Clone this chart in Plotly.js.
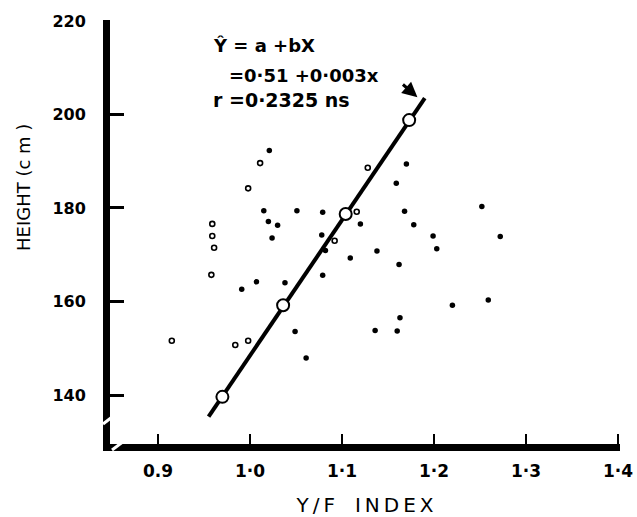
<!DOCTYPE html>
<html>
<head>
<meta charset="utf-8">
<script src="https://cdn.plot.ly/plotly-3.0.1.min.js"></script>
<style>html,body{margin:0;padding:0;background:#fff;}#chart{width:637px;height:517px;}</style>
</head>
<body>
<div id="chart"></div>
<script>
// Filled (solid) observations: Y/F index vs height (cm)
const filledX = [1.021, 1.015, 1.051, 1.079, 1.120, 1.020, 1.030, 1.024, 1.078, 1.082, 1.109, 1.079, 1.007, 0.991, 1.038, 1.049, 1.061, 1.170, 1.159, 1.168, 1.178, 1.199, 1.203, 1.138, 1.162, 1.252, 1.272, 1.220, 1.259, 1.163, 1.136, 1.160];
const filledY = [192.3, 179.4, 179.4, 179.1, 176.6, 177.1, 176.3, 173.6, 174.2, 170.9, 169.3, 165.6, 164.2, 162.6, 164.0, 153.6, 147.9, 189.4, 185.3, 179.3, 176.4, 174.0, 171.3, 170.8, 167.9, 180.3, 173.9, 159.2, 160.3, 156.5, 153.8, 153.7];
// Open (hollow) observations
const openX = [1.011, 0.998, 1.128, 1.116, 1.092, 0.959, 0.959, 0.961, 0.958, 0.915, 0.984, 0.998];
const openY = [189.6, 184.2, 188.6, 179.2, 173.0, 176.6, 174.0, 171.5, 165.7, 151.6, 150.7, 151.6];
// Regression line end points and the marked points on it
const lineX = [0.955, 1.190];
const lineY = [135.4, 203.5];
const fitX = [0.970, 1.036, 1.104, 1.173];
const fitY = [139.6, 159.2, 178.7, 198.8];
// Ticks
const xTickVals = [0.9, 1.0, 1.1, 1.2, 1.3, 1.4];
const xTickText = ["0.9", "1·0", "1·1", "1·2", "1·3", "1·4"];
const yTickVals = [140, 160, 180, 200, 220];
const yTickText = ["140", "160", "180", "200", "220"];

const FONT = "DejaVu Sans, Arial, sans-serif";

const traces = [
  {x: lineX, y: lineY, mode: "lines", type: "scatter",
   line: {color: "#000", width: 4}, hoverinfo: "skip", showlegend: false},
  {x: filledX, y: filledY, mode: "markers", type: "scatter",
   marker: {color: "#000", size: 5.5, line: {width: 0}}, showlegend: false},
  {x: openX, y: openY, mode: "markers", type: "scatter",
   marker: {color: "#fff", size: 5, line: {color: "#000", width: 1.6}}, showlegend: false},
  {x: fitX, y: fitY, mode: "markers", type: "scatter",
   marker: {color: "#fff", size: 12, line: {color: "#000", width: 2}}, showlegend: false}
];

const W = 510, H = 424, L = 110, T = 20;
function px(x){ return (x - L) / W; }
function py(y){ return (T + H - y) / H; }

const layout = {
  width: 637, height: 517,
  margin: {l: 110, r: 17, t: 20, b: 73},
  paper_bgcolor: "#fff", plot_bgcolor: "#fff",
  showlegend: false,
  xaxis: {
    range: [0.84783, 1.40217],
    tickvals: xTickVals, ticktext: xTickText,
    ticks: "inside", ticklen: 10, tickwidth: 2, tickcolor: "#000",
    showline: true, linewidth: 7, linecolor: "#000",
    showgrid: false, zeroline: false,
    ticklabelstandoff: 6,
    tickfont: {family: FONT, size: 17, color: "#000", weight: "bold"},
    title: {text: "Y\u2009/\u2009F\u2003I\u2009N\u2009D\u2009E\u2009X", font: {family: FONT, size: 20, color: "#000"}, standoff: 20}
  },
  yaxis: {
    range: [129.52, 220.21],
    tickvals: yTickVals, ticktext: yTickText,
    ticks: "inside", ticklen: 14, tickwidth: 3, tickcolor: "#000",
    showline: true, linewidth: 7, linecolor: "#000",
    showgrid: false, zeroline: false,
    tickfont: {family: FONT, size: 16, color: "#000", weight: "bold"},
    ticklabelstandoff: 14
  },
  shapes: [
    {type: "line", xref: "paper", yref: "paper", x0: px(103), y0: py(424), x1: px(116), y1: py(414),
     line: {color: "#fff", width: 3}, layer: "above"},
    {type: "line", xref: "paper", yref: "paper", x0: px(112), y0: py(450), x1: px(128), y1: py(438),
     line: {color: "#fff", width: 3}, layer: "above"}
  ],
  annotations: [
    {xref: "paper", yref: "paper", x: px(23), y: py(188), text: "HEIGHT (c m )", textangle: -90,
     showarrow: false, font: {family: FONT, size: 18, color: "#000"}, xanchor: "center", yanchor: "middle"},
    {xref: "paper", yref: "paper", x: px(211), y: py(45), text: "\u0176 = a +bX", showarrow: false,
     font: {family: FONT, size: 18, color: "#000", weight: "bold"}, xanchor: "left", yanchor: "middle"},
    {xref: "paper", yref: "paper", x: px(227), y: py(75), text: "=0·51 +0·003x", showarrow: false,
     font: {family: FONT, size: 18, color: "#000", weight: "bold"}, xanchor: "left", yanchor: "middle"},
    {xref: "paper", yref: "paper", x: px(211), y: py(100), text: "r =0·2325 ns", showarrow: false,
     font: {family: FONT, size: 19, color: "#000", weight: "bold"}, xanchor: "left", yanchor: "middle"},
    {x: 1.182, y: 203.7, xref: "x", yref: "y", text: "", showarrow: true,
     ax: -16, ay: -14, arrowhead: 2, arrowsize: 1, arrowwidth: 3, arrowcolor: "#000", standoff: 0}
  ]
};

Plotly.newPlot("chart", traces, layout, {staticPlot: true, displayModeBar: false});
</script>
</body>
</html>
